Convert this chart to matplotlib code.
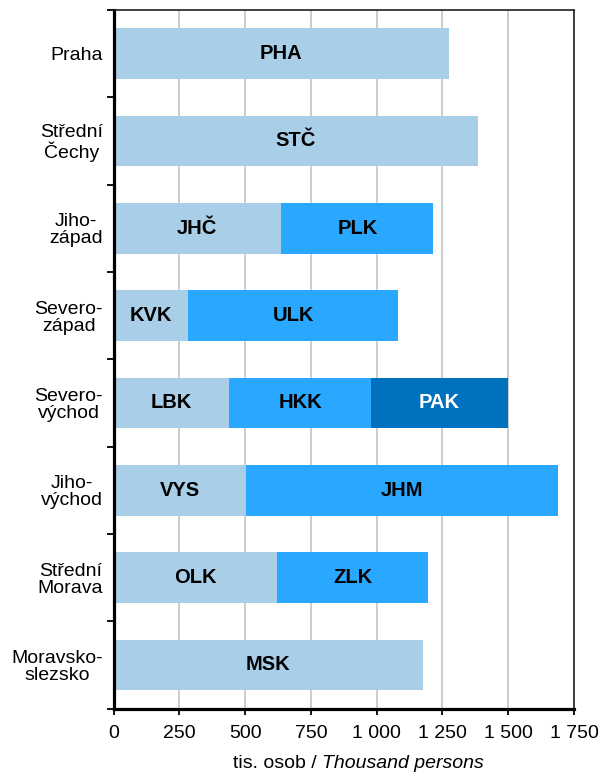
import matplotlib
matplotlib.use("Agg")
import matplotlib.pyplot as plt
import numpy as np

plt.rcParams["font.family"] = ["Liberation Sans", "DejaVu Sans"]

# Population by cohesion region (NUTS 2), split into regions (kraje), thousand persons
regions = ["Praha", "Střední\nČechy", "Jiho-\nzápad", "Severo-\nzápad",
           "Severo-\nvýchod", "Jiho-\nvýchod", "Střední\nMorava", "Moravsko-\nslezsko"]

seg1_codes = ["PHA", "STČ", "JHČ", "KVK", "LBK", "VYS", "OLK", "MSK"]
seg1_values = [1275.4, 1386.8, 637.0, 283.2, 437.6, 504.0, 622.9, 1177.0]

seg2_codes = ["", "", "PLK", "ULK", "HKK", "JHM", "ZLK", ""]
seg2_values = [0, 0, 578.7, 798.9, 542.6, 1184.6, 572.4, 0]

seg3_codes = ["", "", "", "", "PAK", "", "", ""]
seg3_values = [0, 0, 0, 0, 517.1, 0, 0, 0]

x_ticks = [0, 250, 500, 750, 1000, 1250, 1500, 1750]
x_tick_labels = ["0", "250", "500", "750", "1 000", "1 250", "1 500", "1 750"]

colors = ["#A8CEE8", "#2AA8FF", "#0071BF"]
text_colors = ["black", "black", "white"]

fig = plt.figure(figsize=(6.0, 7.74), dpi=100)
ax = fig.add_axes([113.5 / 600, 1 - 708.5 / 774, 460.5 / 600, 698.5 / 774])

y = np.arange(len(regions))
bar_h = 0.58
left = np.zeros(len(regions))
for vals, codes, col, tcol in zip([seg1_values, seg2_values, seg3_values],
                                  [seg1_codes, seg2_codes, seg3_codes],
                                  colors, text_colors):
    vals = np.array(vals, dtype=float)
    ax.barh(y, vals, left=left, height=bar_h, color=col, zorder=2)
    for yi, (l, v, c) in enumerate(zip(left, vals, codes)):
        if v > 0 and c:
            ax.text(l + v / 2, yi, c, ha="center", va="center",
                    fontsize=14.5, fontweight="bold", color=tcol, zorder=3)
    left = left + vals

ax.set_xlim(0, 1750)
ax.set_ylim(len(regions) - 0.5, -0.5)

ax.set_xticks(x_ticks)
ax.set_xticklabels(x_tick_labels, fontsize=14)
ax.xaxis.grid(True, color="#C8C8C8", linewidth=1.3, zorder=0)
ax.set_axisbelow(True)
ax.tick_params(axis="x", direction="out", length=4, width=1.3, pad=8)

# category boundaries as major ticks, names as minor-tick labels
ax.set_yticks(np.arange(len(regions) + 1) - 0.5)
ax.set_yticklabels([])
ax.set_yticks(y, minor=True)
ax.set_yticklabels(regions, minor=True, fontsize=14, multialignment="center",
                   linespacing=1.0)
ax.tick_params(axis="y", which="major", direction="out", length=5, width=1.3)
ax.tick_params(axis="y", which="minor", length=0, pad=7.5)

for side in ["left", "bottom"]:
    ax.spines[side].set_linewidth(2.3)
    ax.spines[side].set_color("black")
for side in ["top", "right"]:
    ax.spines[side].set_linewidth(1.2)
    ax.spines[side].set_color("#202020")

# axis title: Czech part upright, English part italic
fig.text(317 / 600, 1 - 768 / 774, "tis. osob /", ha="right", va="baseline",
         fontsize=14)
fig.text(322.5 / 600, 1 - 768 / 774, "Thousand persons", ha="left",
         va="baseline", fontsize=14, fontstyle="italic")

fig.savefig("out.png", dpi=100)
